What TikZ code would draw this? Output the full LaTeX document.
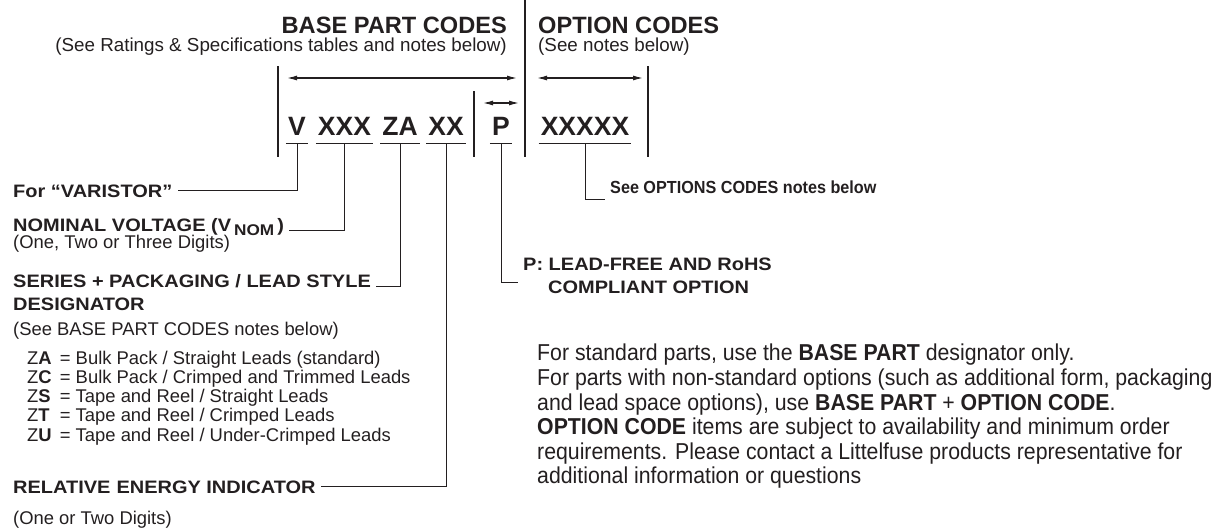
\documentclass[tikz,border=0pt]{standalone}
\usepackage{fontspec}
\setmainfont{Liberation Sans}
\newfontfamily\lblfont{Liberation Sans}[FakeStretch=1.11]
\newfontfamily\condfont{Liberation Sans}[FakeStretch=0.925]
\usetikzlibrary{arrows.meta,positioning}
\definecolor{ink}{HTML}{231F20}

\begin{document}
\begin{tikzpicture}[
    x=1pt, y=-1pt,
    every node/.style={inner sep=0pt, text=ink},
    head/.style={font=\fontsize{23.6}{26}\selectfont\bfseries, anchor=base west},
    sub/.style={font=\fontsize{18.8}{21}\selectfont, anchor=base west},
    code/.style={font=\fontsize{26.5}{30}\selectfont\bfseries, anchor=base, inner xsep=2pt, inner ysep=8pt, text depth=0pt},
    lbl/.style={font=\lblfont\fontsize{18}{21}\selectfont\bfseries, anchor=base west, inner xsep=5pt},
    note/.style={font=\fontsize{18.4}{19.3}\selectfont, anchor=base west},
    para/.style={font=\condfont\fontsize{23}{24.6}\selectfont, anchor=north west, align=left},
    lead/.style={draw=ink, line width=0.9pt},
    bar/.style={draw=ink, line width=1.3pt},
    dim/.style={draw=ink, line width=1.2pt, {Latex[length=10pt,width=5pt]}-{Latex[length=10pt,width=5pt]}}
  ]
  \useasboundingbox (0,0) rectangle (1216,531);

  % headings
  \node[head, anchor=base east] (basehead) at (507,33) {BASE PART CODES};
  \node[sub, anchor=base east] (basesub) at (507,51) {(See Ratings \& Specifications tables and notes below)};
  \node[head] (opthead) at (538,33) {OPTION CODES};
  \node[sub] (optsub) at (538,51) {(See notes below)};

  % bars and dimension arrows
  \coordinate (divtop) at (525,0);
  \coordinate (divbot) at (525,157);
  \coordinate (lbartop) at (278,66);
  \coordinate (lbarbot) at (278,157);
  \coordinate (rbartop) at (648,66);
  \coordinate (rbarbot) at (648,157);
  \coordinate (mbartop) at (474,91);
  \coordinate (mbarbot) at (474,157);
  \draw[bar] (divtop) -- (divbot);
  \draw[bar] (lbartop) -- (lbarbot);
  \draw[bar] (rbartop) -- (rbarbot);
  \draw[bar] (mbartop) -- (mbarbot);

  \coordinate (basel) at (287,78);
  \coordinate (baser) at (517,78);
  \coordinate (optl) at (537,78);
  \coordinate (optr) at (643,78);
  \coordinate (pl) at (483,103);
  \coordinate (pr) at (519,103);
  \draw[dim] (basel) -- (baser);
  \draw[dim] (optl) -- (optr);
  \draw[dim] (pl) -- (pr);

  % the code letters
  \node[code] (v) at (297,135) {V};
  \node[code] (xxx) at (344.5,135) {XXX};
  \node[code] (za) at (400,135) {ZA};
  \node[code] (xx) at (446,135) {XX};
  \node[code] (p) at (501,135) {P};
  \node[code] (opt) at (585,135) {XXXXX};
  \foreach \c in {v,xxx,za,xx,p,opt}
    \draw[lead] (\c.south west) -- (\c.south east);

  % labels, left side
  \node[lbl] (varistor) at (8,197) {For “VARISTOR”};
  \node[lbl] (nominal) at (8,231) {NOMINAL VOLTAGE (V\,\raisebox{-4pt}{\fontsize{15.5}{15.5}\selectfont NOM}\,)};
  \node[note] (nomnote) at (13,248) {(One, Two or Three Digits)};
  \node[lbl] (series) at (8,287) {SERIES + PACKAGING / LEAD STYLE};
  \node[lbl] (designator) at (8,310) {DESIGNATOR};
  \node[note] (seriesnote) at (13,335) {(See BASE PART CODES notes below)};
  \node[note] (ztable) at (27,364) {%
    \begin{tabular}[t]{@{}l@{\ \,}l@{}}
      Z\textbf{A} & = Bulk Pack / Straight Leads (standard)\\
      Z\textbf{C} & = Bulk Pack / Crimped and Trimmed Leads\\
      Z\textbf{S} & = Tape and Reel / Straight Leads\\
      Z\textbf{T} & = Tape and Reel / Crimped Leads\\
      Z\textbf{U} & = Tape and Reel / Under-Crimped Leads
    \end{tabular}};
  \node[lbl] (energy) at (8,493) {RELATIVE\,\,ENERGY INDICATOR};
  \node[note] (energynote) at (13,524) {(One or Two Digits)};

  % labels, right side
  \node[lbl, font=\condfont\fontsize{17.5}{21}\selectfont\bfseries] (optnote) at (605,193) {See OPTIONS CODES notes below};
  \node[lbl] (leadfree) at (518,270) {P: LEAD-FREE AND RoHS};
  \node[lbl] (leadfree2) at (543,293) {COMPLIANT OPTION};

  % leaders
  \draw[lead] (v.south) |- (varistor.east);
  \draw[lead] (xxx.south) |- ([yshift=1pt]nominal.base east);
  \draw[lead] (za.south) |- ([yshift=1pt]series.base east);
  \draw[lead] (xx.south) |- ([yshift=7pt]energy.base east);
  \draw[lead] (p.south) |- ([yshift=-12pt]leadfree.base west);
  \draw[lead] (opt.south) |- ([yshift=-6pt]optnote.base west);

  % ordering notes
  \node[para] (ordering) at (537,344) {For standard parts, use the \textbf{BASE PART} designator only.\\
    For parts with non-standard options (such as additional form, packaging\\
    and lead space options), use \textbf{BASE PART} + \textbf{OPTION CODE}.\\
    \textbf{OPTION CODE} items are subject to availability and minimum order\\
    requirements. Please contact a Littelfuse products representative for\\
    additional information or questions};
\end{tikzpicture}
\end{document}
